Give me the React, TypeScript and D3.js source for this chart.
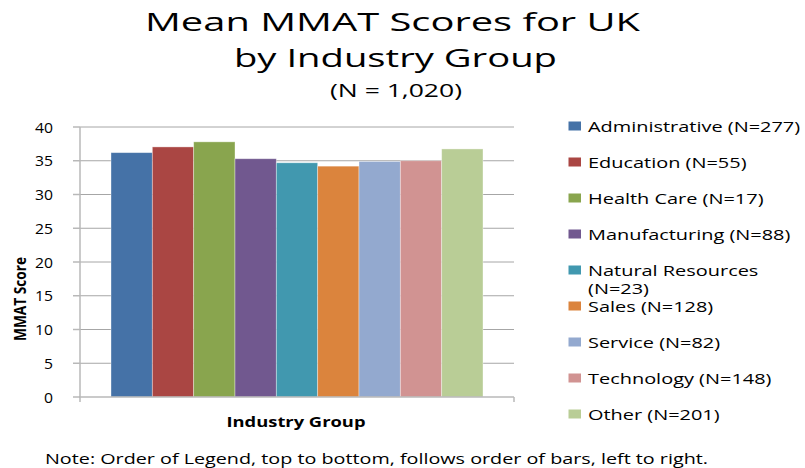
import React from 'react';
import * as d3 from 'd3';

// Mean MMAT scores per industry group
const groups = [
  'Administrative (N=277)',
  'Education (N=55)',
  'Health Care (N=17)',
  'Manufacturing (N=88)',
  'Natural Resources (N=23)',
  'Sales (N=128)',
  'Service (N=82)',
  'Technology (N=148)',
  'Other (N=201)'
];
const legendLines = [
  ['Administrative (N=277)'],
  ['Education (N=55)'],
  ['Health Care (N=17)'],
  ['Manufacturing (N=88)'],
  ['Natural Resources', '(N=23)'],
  ['Sales (N=128)'],
  ['Service (N=82)'],
  ['Technology (N=148)'],
  ['Other (N=201)']
];
const scores = [36.2, 37.05, 37.8, 35.3, 34.7, 34.2, 34.9, 35.0, 36.75];
const colors = [
  '#4572A7', '#AA4643', '#89A54E', '#71588F', '#4198AF',
  '#DB843D', '#93A9CF', '#D19392', '#B9CD96'
];
const yTicks = [0, 5, 10, 15, 20, 25, 30, 35, 40];

const FONT = '"Open Sans", sans-serif';
const W = 805;
const H = 468;
const plot = { left: 80, right: 514, top: 127, bottom: 397 };

const App: React.FC = () => {
  const x = d3.scaleBand<string>()
    .domain(groups)
    .range([plot.left, plot.right])
    .paddingInner(0)
    .paddingOuter(0.75);
  const y = d3.scaleLinear().domain([0, 40]).range([plot.bottom, plot.top]);
  const legendY = d3.scalePoint<string>()
    .domain(groups)
    .range([126, 414]);

  return (
    <svg width={W} height={H} style={{ position: 'absolute', left: 0, top: 0, background: '#fff' }}>
      <rect width={W} height={H} fill="#fff" />
      <g fontFamily={FONT} fill="#000">
        <text x={392.5} y={31} fontSize={26} textAnchor="middle" textLength={495} lengthAdjust="spacingAndGlyphs">
          Mean MMAT Scores for UK
        </text>
        <text x={395.5} y={67} fontSize={26} textAnchor="middle" textLength={323} lengthAdjust="spacingAndGlyphs">
          by Industry Group
        </text>
        <text x={396} y={97} fontSize={18} textAnchor="middle" textLength={132} lengthAdjust="spacingAndGlyphs">
          (N = 1,020)
        </text>
      </g>

      {/* gridlines */}
      {yTicks.filter((t) => t > 0).map((t) => (
        <line key={t} x1={plot.left} x2={plot.right} y1={y(t)} y2={y(t)} stroke="#a6a6a6" strokeWidth={1} />
      ))}

      {/* bars */}
      {groups.map((g, i) => (
        <rect
          key={g}
          x={x(g)!}
          y={y(scores[i])}
          width={x.bandwidth()}
          height={y(0) - y(scores[i])}
          fill={colors[i]}
          stroke="#ffffff"
          strokeOpacity={0.45}
          strokeWidth={0.8}
        />
      ))}

      {/* axes */}
      <line x1={plot.left} x2={plot.left} y1={plot.top} y2={plot.bottom} stroke="#b8b8b8" strokeWidth={1.5} />
      <line x1={plot.left - 1} x2={plot.right} y1={plot.bottom} y2={plot.bottom} stroke="#b8b8b8" strokeWidth={1.5} />
      <line x1={plot.left} x2={plot.left} y1={plot.bottom} y2={plot.bottom + 5} stroke="#b8b8b8" strokeWidth={1.5} />
      <line x1={plot.right} x2={plot.right} y1={plot.bottom} y2={plot.bottom + 5} stroke="#b8b8b8" strokeWidth={1.5} />
      {yTicks.map((t) => (
        <g key={t}>
          <line x1={plot.left - 7} x2={plot.left} y1={y(t)} y2={y(t)} stroke="#b8b8b8" strokeWidth={1.5} />
          <text x={53} y={y(t) + 5.5} fontFamily={FONT} fontSize={15} textAnchor="end" fill="#000"
            textLength={t >= 10 ? 18 : 9} lengthAdjust="spacingAndGlyphs">
            {t}
          </text>
        </g>
      ))}

      {/* axis titles */}
      <text transform="translate(25.5,299) rotate(-90)" fontFamily={FONT} fontSize={16} fontWeight="bold"
        textAnchor="middle" textLength={84} lengthAdjust="spacingAndGlyphs">
        MMAT Score
      </text>
      <text x={296} y={427} fontFamily={FONT} fontSize={15} fontWeight="bold" textAnchor="middle"
        textLength={139} lengthAdjust="spacingAndGlyphs">
        Industry Group
      </text>

      {/* legend */}
      {groups.map((g, i) => {
        const cy = legendY(g)!;
        return (
          <g key={g}>
            <rect x={568.5} y={cy - 4.5} width={12.5} height={9} fill={colors[i]} />
            {legendLines[i].map((line, j) => (
              <text key={j} transform={`translate(588,${cy + 5.5 + j * 18.5}) scale(1.33,1)`}
                fontFamily={FONT} fontSize={15} fill="#000">
                {line}
              </text>
            ))}
          </g>
        );
      })}

      <text x={45} y={464} fontFamily={FONT} fontSize={15} fill="#000" textLength={663} lengthAdjust="spacingAndGlyphs">
        Note: Order of Legend, top to bottom, follows order of bars, left to right.
      </text>
    </svg>
  );
};

export default App;
